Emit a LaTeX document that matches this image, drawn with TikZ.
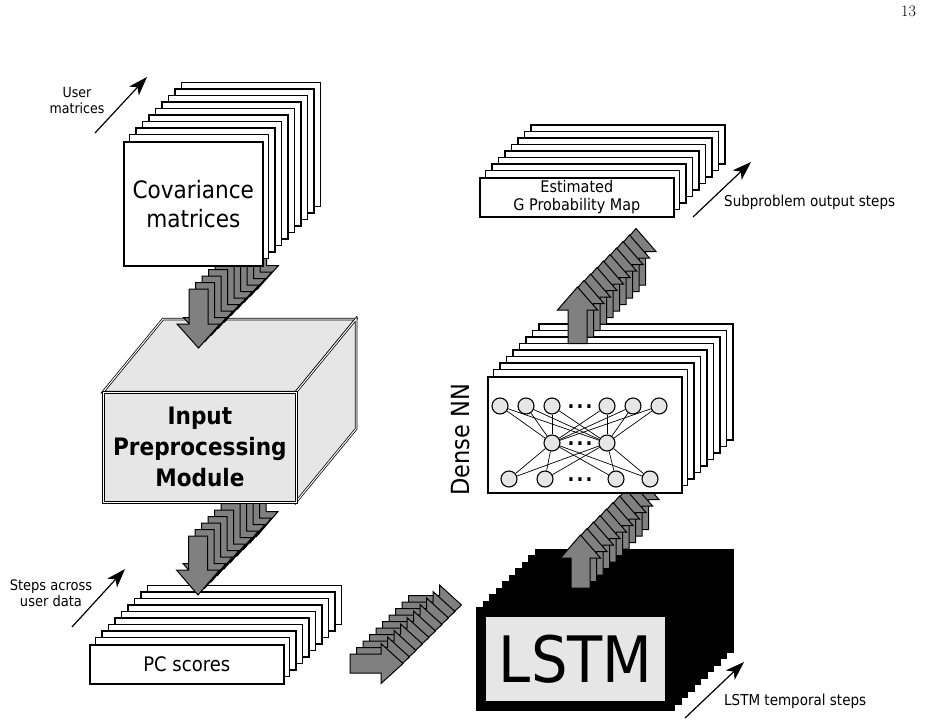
\documentclass[tikz,border=0pt]{standalone}
\usepackage{fontspec}
\newfontfamily\dv{DejaVu Sans}[FakeStretch=0.9]
\usetikzlibrary{arrows.meta,calc}
\definecolor{agray}{HTML}{808080}
\definecolor{lgray}{HTML}{E6E6E6}
\begin{document}
\begin{tikzpicture}[x=1pt,y=-1pt,
  layer/.style={draw=black,fill=white,line width=1.6pt,inner sep=0pt},
  garrow/.style={draw=black,fill=agray,line width=1pt,line join=miter},
  cubeface/.style={draw=black,double=white,double distance=1pt,line width=0.75pt,fill=lgray,line join=miter},
  thinarrow/.style={line width=1.2pt,-{Stealth[length=19pt,width=13pt,inset=5pt]}},
  neuron/.style={circle,draw=black,fill=lgray,line width=1.1pt,minimum size=16pt,inner sep=0pt},
  syn/.style={line width=0.7pt},
  lbl/.style={font=\dv\fontsize{14}{16}\selectfont,align=center,inner sep=0pt},
  lblwide/.style={font=\dv\fontsize{15}{18}\selectfont,inner sep=0pt,anchor=base west},
  dotsnode/.style={inner sep=0pt,anchor=base,font=\dv\bfseries\fontsize{20}{24}\selectfont}
]
\useasboundingbox (0,0) rectangle (925,725);

% ---------- PC scores stack ----------
\foreach \i in {9,...,1}
  \draw[layer] ({89+6.5*\i},{644-6.5*\i}) rectangle +(194,39);
\node[layer,anchor=north west,minimum width=194pt,minimum height=39pt,
      font=\dv\fontsize{20}{24}\selectfont] (pc) at (89,644) {PC scores};

% ---------- arrows module -> PC scores ----------
\foreach \i in {9,...,0}
  \draw[garrow,shift={(6.5*\i,-6.5*\i)}]
    (188.5,536) -- (207.5,536) -- (207.5,570) -- (219.5,570) -- (198,595)
    -- (176.5,570) -- (188.5,570) -- cycle;

% ---------- Input Preprocessing Module cube ----------
\coordinate (fA) at (103,392);
\coordinate (fB) at (296,392);
\coordinate (fC) at (296,502);
\coordinate (bA) at (163,319);
\coordinate (bB) at (356,319);
\coordinate (bC) at (356,429);
\draw[cubeface] (fA) -- (bA) -- (bB) -- (fB) -- cycle;
\draw[cubeface] (fB) -- (bB) -- (bC) -- (fC) -- cycle;
\node[cubeface,anchor=north west,minimum width=193pt,minimum height=110pt,
      align=center,font=\dv\bfseries\fontsize{24}{31}\selectfont] (ipm) at (fA)
      {Input\\Preprocessing\\Module};

% ---------- arrows covariance -> module ----------
\foreach \i in {9,...,0}
  \draw[garrow,shift={(6.5*\i,-6.5*\i)}]
    (189,289) -- (208,289) -- (208,324) -- (220,324) -- (198.5,348)
    -- (177,324) -- (189,324) -- cycle;

% ---------- Covariance matrices stack ----------
\foreach \i in {9,...,1}
  \draw[layer] ({123+6.5*\i},{141-6.5*\i}) rectangle +(139,124);
\node[layer,anchor=north west,minimum width=139pt,minimum height=124pt,
      align=center,font=\dv\fontsize{24}{29}\selectfont] (cov) at (123,141)
      {Covariance\\matrices};

% ---------- arrows PC scores -> LSTM ----------
\foreach \i in {9,...,0}
  \draw[garrow,shift={(6.5*\i,-6.5*\i)}]
    (350,654) -- (381,654) -- (381,643.5) -- (403,663.5) -- (381,683.5)
    -- (381,673) -- (350,673) -- cycle;

% ---------- LSTM block ----------
\foreach \i in {9,...,0}
  \fill[black] ({476+6.5*\i},{607-6.5*\i}) rectangle +(199,104);
\node[fill=lgray,anchor=north west,minimum width=179pt,minimum height=84pt,
      inner sep=0pt,font=\dv\fontsize{64}{70}\selectfont] (lstm) at (486,617) {LSTM};

% ---------- arrows LSTM -> Dense ----------
\foreach \i in {9,...,0}
  \draw[garrow,shift={(6.5*\i,-6.5*\i)}]
    (571,588) -- (571,558) -- (560.5,558) -- (580.5,535) -- (600.5,558)
    -- (590,558) -- (590,588) -- cycle;

% ---------- Dense NN stack ----------
\foreach \i in {8,...,1}
  \draw[layer] ({487+6.5*\i},{376-6.5*\i}) rectangle +(194,116);
\node[layer,anchor=north west,minimum width=194pt,minimum height=116pt] (dense) at (487,376) {};

\foreach \n/\x in {1/500,2/526,3/552,4/607,5/633,6/659}
  \node[neuron] (t\n) at (\x,406) {};
\foreach \n/\x in {1/552,2/607}
  \node[neuron] (m\n) at (\x,443) {};
\foreach \n/\x in {1/509,2/545,3/616,4/650}
  \node[neuron] (b\n) at (\x,479) {};
\foreach \j in {1,...,6}
  \foreach \q in {1,2}
    \draw[syn] (t\j) -- (m\q);
\foreach \q in {1,2}
  \foreach \k in {1,...,4}
    \draw[syn] (m\q) -- (b\k);
\node[dotsnode] (d1) at (580,408) {.\hspace{2.2pt}.\hspace{2.2pt}.};
\node[dotsnode] (d2) at (580,445) {.\hspace{2.2pt}.\hspace{2.2pt}.};
\node[dotsnode] (d3) at (580,481) {.\hspace{2.2pt}.\hspace{2.2pt}.};

\node[rotate=90,inner sep=0pt,font=\dv\fontsize{25}{30}\selectfont] (dlabel) at (461,440) {Dense NN};

% ---------- arrows Dense -> Estimated ----------
\foreach \i in {9,...,0}
  \draw[garrow,shift={(6.5*\i,-6.5*\i)}]
    (568,343.5) -- (568,310) -- (557.5,310) -- (577.5,287) -- (597.5,310)
    -- (587,310) -- (587,343.5) -- cycle;

% ---------- Estimated G Probability Map stack ----------
\foreach \i in {8,...,1}
  \draw[layer] ({479+6.5*\i},{177-6.5*\i}) rectangle +(194,39);
\node[layer,anchor=north west,minimum width=194pt,minimum height=39pt,
      align=center,font=\dv\fontsize{16}{18}\selectfont] (est) at (479,177)
      {Estimated\\G Probability Map};

% ---------- thin direction arrows and labels ----------
\coordinate (u1) at (95,133);  \coordinate (u2) at (147,77);
\coordinate (s1) at (72,627);  \coordinate (s2) at (125,569);
\coordinate (o1) at (693,217); \coordinate (o2) at (751,162);
\coordinate (l1) at (685,718); \coordinate (l2) at (744,662);
\draw[thinarrow] (u1) -- (u2);
\draw[thinarrow] (s1) -- (s2);
\draw[thinarrow] (o1) -- (o2);
\draw[thinarrow] (l1) -- (l2);

\node[lbl] (ulbl) at (77,100) {User\\matrices};
\node[lbl,font=\dv\fontsize{14.5}{15.5}\selectfont] (slbl) at (51,593) {Steps across\\user data};
\node[lblwide] (olbl) at (724,206) {Subproblem output steps};
\node[lblwide] (llbl) at (724,705) {LSTM temporal steps};

\node[inner sep=0pt,font=\fontsize{16}{18}\selectfont] (pg) at (908.5,11.2) {13};
\end{tikzpicture}
\end{document}
